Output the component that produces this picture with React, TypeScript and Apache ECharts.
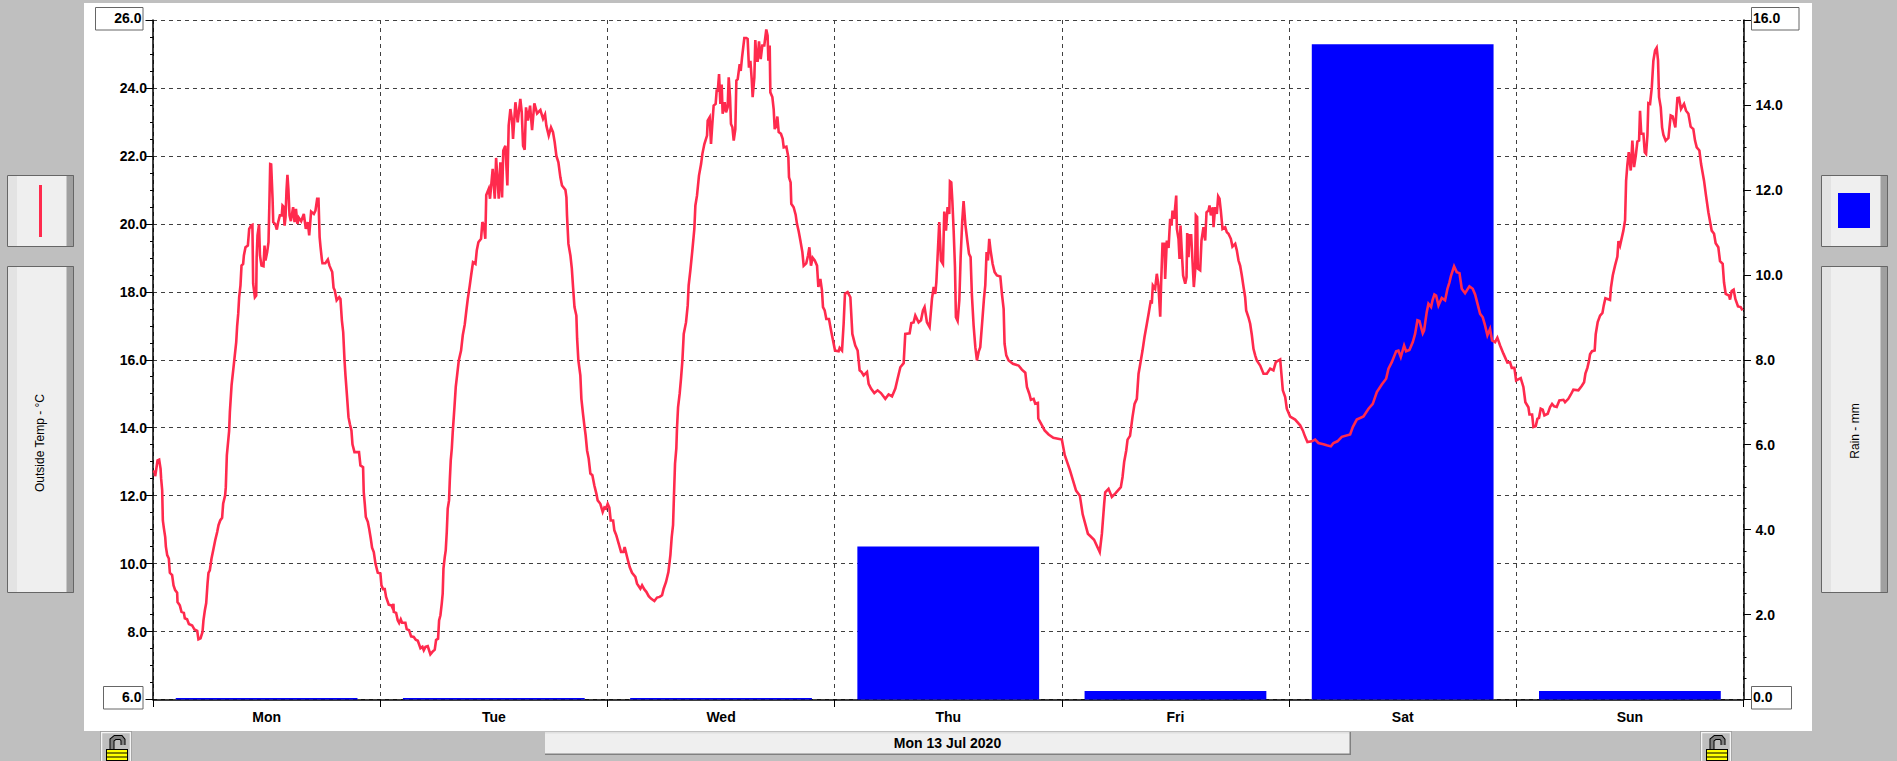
import React, { useEffect, useRef } from "react";
import * as echarts from "echarts";

const days = ["Mon", "Tue", "Wed", "Thu", "Fri", "Sat", "Sun"];
const rainMm = [0, 0, 0, 3.6, 0.2, 15.43, 0.2];
const tempTitle = "Outside Temp - °C";
const rainTitle = "Rain - mm";
const dateLabel = "Mon 13 Jul 2020";

// [hour since Monday 00:00, outside temperature °C]
const monTemp = [
  [0, 12.72], [0.2, 12.7], [0.23, 12.57], [0.33, 12.75], [0.48, 13.04], [0.65, 13.06], [0.8, 12.79], [0.86, 12.5], [0.97, 12.16], [1.04, 11.27],
  [1.14, 11.06], [1.29, 10.78], [1.36, 10.5], [1.5, 10.25], [1.67, 10.15], [1.78, 9.73], [2.02, 9.66], [2.17, 9.36], [2.34, 9.22], [2.55, 9.14],
  [2.59, 8.87], [2.83, 8.77], [3.01, 8.58], [3.26, 8.55], [3.36, 8.39], [3.6, 8.36], [3.79, 8.22], [4.14, 8.18], [4.38, 8.06], [4.67, 8.02],
  [4.8, 7.77], [5.02, 7.8], [5.23, 7.99], [5.33, 8.33], [5.48, 8.63], [5.62, 8.84], [5.76, 9.41], [5.86, 9.73], [6, 9.8], [6.18, 10.15],
  [6.36, 10.39], [6.57, 10.69], [6.78, 10.93], [6.92, 11.13], [7.1, 11.27], [7.3, 11.35], [7.41, 11.76], [7.62, 12.01], [7.69, 12.25], [7.8, 13.19],
  [8.04, 13.9], [8.12, 14.46], [8.3, 15.25], [8.47, 15.69], [8.64, 16.13], [8.79, 16.52], [8.89, 17], [9, 17.35], [9.1, 17.84], [9.24, 18.19],
  [9.35, 18.77], [9.52, 18.82], [9.6, 19.07], [9.77, 19.31], [10.02, 19.36], [10.16, 19.85], [10.37, 19.95], [10.5, 19.97], [10.58, 18.24], [10.76, 17.84],
  [10.9, 17.89], [10.95, 19.02], [11.04, 19.66], [11.2, 19.98], [11.3, 19.07], [11.46, 18.77], [11.67, 18.75], [11.78, 19.36], [11.88, 18.92], [12.06, 19.17],
  [12.2, 19.46], [12.3, 20.69], [12.38, 21.76], [12.48, 21.75], [12.63, 20.74], [12.7, 20.05], [12.9, 20], [13.08, 19.83], [13.22, 20.05], [13.4, 20.25],
  [13.6, 20.25], [13.68, 20.54], [13.78, 20.51], [13.9, 19.95], [14, 20.2], [14.1, 20.98], [14.2, 21.44], [14.3, 21.03], [14.42, 20.25], [14.56, 20.08],
  [14.8, 20.49], [14.95, 20.05], [15.1, 20.44], [15.26, 20], [15.4, 20.18], [15.65, 20.08], [15.93, 20.29], [16.14, 19.85], [16.35, 20.05], [16.5, 19.66],
  [16.7, 20.36], [16.99, 20.29], [17.16, 20.39], [17.34, 20.74], [17.48, 20.74], [17.6, 19.61], [17.7, 19.31], [17.83, 18.97], [17.9, 18.84], [18.2, 18.84],
  [18.47, 18.95], [18.64, 18.77], [18.93, 18.58], [19.07, 18.12], [19.2, 18.04], [19.4, 17.75], [19.67, 17.84], [19.8, 17.79], [19.95, 17.16], [20.09, 16.81],
  [20.23, 15.98], [20.33, 15.54], [20.5, 14.9], [20.65, 14.31], [20.8, 14.1], [20.96, 13.92], [21.07, 13.51], [21.28, 13.28], [21.76, 13.28], [21.91, 12.89],
  [22.19, 12.84], [22.26, 12.1], [22.37, 11.76], [22.48, 11.37], [22.69, 11.23], [22.83, 11.03], [23, 10.74], [23.14, 10.47], [23.32, 10.34], [23.5, 10],
  [23.74, 9.73], [24.02, 9.71],
];

const tueTemp = [
  [24.13, 9.36], [24.3, 9.25], [24.48, 9.25], [24.62, 9.02], [24.9, 8.79], [25.19, 8.77], [25.33, 8.68], [25.4, 8.82], [25.43, 8.58], [25.68, 8.55],
  [25.85, 8.33], [26, 8.25], [26.17, 8.36], [26.31, 8.26], [26.66, 8.26], [26.8, 8.07], [27.05, 8.04], [27.26, 7.86], [27.54, 7.84], [27.75, 7.76],
  [27.97, 7.73], [28.25, 7.51], [28.46, 7.55], [28.6, 7.45], [28.78, 7.55], [29.02, 7.57], [29.16, 7.45], [29.3, 7.33], [29.51, 7.4], [29.76, 7.47],
  [29.9, 7.75], [30.11, 7.79], [30.22, 8.33], [30.36, 8.48], [30.5, 8.82], [30.6, 9.12], [30.68, 9.85], [30.82, 10.2], [30.92, 10.39], [31.03, 10.93],
  [31.13, 11.62], [31.27, 11.86], [31.35, 12.45], [31.45, 13.04], [31.56, 13.38], [31.66, 13.87], [31.84, 14.6], [31.98, 15.2], [32.12, 15.54], [32.3, 15.98],
  [32.54, 16.27], [32.72, 16.72], [32.93, 17.04], [33.1, 17.45], [33.25, 17.79], [33.46, 18.19], [33.6, 18.48], [33.8, 18.87], [34.06, 18.82], [34.2, 19.22],
  [34.37, 19.46], [34.65, 19.56], [34.79, 20.05], [34.95, 19.95], [35.1, 19.56], [35.2, 20.85], [35.46, 21.03], [35.6, 20.74], [35.88, 21.62], [36.1, 20.74],
  [36.24, 21.94], [36.52, 20.74], [36.69, 21.81], [36.87, 20.78], [37, 22.16], [37.22, 22.3], [37.43, 21.13], [37.57, 22.89], [37.75, 23.38], [37.93, 23.04],
  [38.03, 22.5], [38.28, 23.58], [38.52, 22.99], [38.8, 23.68], [38.95, 23.28], [39.09, 22.3], [39.26, 22.18], [39.4, 23.43], [39.6, 23.04], [39.83, 23.48],
  [40.04, 22.76], [40.28, 23.55], [40.57, 23.25], [40.92, 23.35], [41.2, 23.09], [41.41, 23.22], [41.55, 22.89], [41.8, 22.6], [42.04, 22.84], [42.25, 22.7],
  [42.43, 22.4], [42.61, 22], [42.82, 21.81], [43.03, 21.37], [43.2, 21.13], [43.56, 21], [43.67, 20.78], [43.73, 20.25], [43.88, 19.41], [44.09, 19.07],
  [44.24, 18.68], [44.37, 18.14], [44.52, 17.55], [44.72, 17.3], [44.8, 16.62], [44.93, 15.98], [45.14, 15.54], [45.25, 14.85], [45.42, 14.41], [45.55, 14.1],
  [45.7, 13.77], [45.85, 13.33], [46.02, 13.09], [46.2, 12.65], [46.41, 12.6], [46.62, 12.3], [46.83, 12.06], [46.97, 11.86], [47.25, 11.76], [47.5, 11.52],
  [47.68, 11.65], [47.85, 11.62], [48.03, 11.76],
];

const wedTemp = [
  [48.2, 11.65], [48.35, 11.27], [48.6, 11.27], [48.73, 10.98], [48.94, 10.83], [49.19, 10.59], [49.44, 10.34], [49.68, 10.34], [49.82, 10.49], [50.07, 10.2],
  [50.35, 9.9], [50.6, 9.73], [50.95, 9.61], [51.13, 9.41], [51.48, 9.26], [51.66, 9.36], [51.9, 9.24], [52.11, 9.17], [52.36, 9.04], [52.6, 8.97],
  [52.96, 8.9], [53.24, 9], [53.52, 9.02], [53.77, 9.07], [53.94, 9.26], [54.19, 9.46], [54.44, 9.75], [54.65, 10.25], [54.79, 10.78], [54.93, 11.13],
  [55.03, 12.01], [55.14, 12.94], [55.28, 13.4], [55.35, 14], [55.46, 14.6], [55.63, 15], [55.77, 15.44], [55.92, 15.98], [56.06, 16.76], [56.3, 17.1],
  [56.48, 17.6], [56.58, 18.19], [56.76, 18.63], [56.97, 19.22], [57.18, 19.85], [57.29, 20.54], [57.46, 20.83], [57.67, 21.42], [57.89, 21.76], [58.03, 22.06],
  [58.24, 22.35], [58.52, 22.6], [58.59, 23.04], [58.8, 23.14], [58.94, 22.35], [59.08, 22.94], [59.22, 23.48], [59.43, 23.53], [59.54, 23.92], [59.66, 23.92],
  [59.79, 24.41], [59.93, 23.53], [60.07, 24.1], [60.17, 23.24], [60.39, 23.58], [60.53, 23.28], [60.7, 23.43], [60.81, 24.31], [60.95, 23.73], [61.05, 22.94],
  [61.2, 22.84], [61.34, 22.45], [61.51, 22.79], [61.62, 24.22], [61.76, 24.26], [61.97, 24.7], [62.08, 24.5], [62.22, 24.9], [62.46, 25.47], [62.67, 25.47],
  [62.81, 25.44], [62.95, 24.6], [63.1, 24.8], [63.24, 24.26], [63.34, 23.73], [63.52, 24.31], [63.62, 25.41], [63.76, 24.8], [63.87, 24.8], [64.01, 25.37],
  [64.19, 24.85], [64.36, 25.25], [64.57, 25.25], [64.78, 25.72], [64.92, 25.54], [65, 24.8], [65.14, 25.25], [65.21, 23.87], [65.42, 23.73], [65.56, 23.38],
  [65.67, 22.79], [65.84, 22.89], [65.95, 23.16], [66.09, 22.7], [66.33, 22.65], [66.51, 22.5], [66.62, 22.25], [66.9, 22.27], [67.11, 21.96], [67.18, 21.37],
  [67.35, 21.22], [67.42, 20.59], [67.67, 20.49], [67.88, 20.27], [68.02, 20], [68.2, 19.78], [68.38, 19.51], [68.59, 19.17], [68.73, 18.77], [69, 18.84],
  [69.19, 19.07], [69.33, 19.31], [69.5, 18.77], [69.68, 19], [69.9, 18.92], [70.14, 18.77], [70.28, 18.14], [70.49, 18.38], [70.66, 18.04], [70.77, 17.55],
  [70.95, 17.45], [71.12, 17.2], [71.4, 17.2], [71.62, 16.86], [71.83, 16.57], [72.04, 16.27],
];

const thuTemp = [
  [72.42, 16.25], [72.53, 16.35], [72.78, 16.27], [72.95, 17.06], [73.09, 17.94], [73.37, 17.99], [73.66, 17.84], [73.87, 16.76], [74.18, 16.42], [74.43, 16.27],
  [74.64, 15.69], [74.85, 15.64], [75.06, 15.54], [75.42, 15.64], [75.59, 15.29], [75.84, 15.15], [76.19, 15.02], [76.54, 15.1], [76.89, 15.02], [77.35, 14.85],
  [77.7, 14.98], [78.06, 14.92], [78.41, 15.15], [78.65, 15.44], [78.94, 15.78], [79.29, 15.9], [79.46, 16.76], [79.92, 16.78], [80.1, 17.08], [80.34, 17.1],
  [80.52, 17.3], [80.87, 17.1], [81.12, 17.16], [81.33, 17.45], [81.5, 17.55], [81.75, 17.1], [82.03, 16.96], [82.28, 17.79], [82.46, 18.14], [82.63, 17.94],
  [82.74, 18.28], [82.88, 19.07], [83.05, 20.05], [83.23, 18.92], [83.44, 18.82], [83.58, 20.36], [83.76, 19.8], [83.93, 20.49], [84.11, 20.29], [84.18, 21.25],
  [84.32, 21.22], [84.43, 20.69], [84.57, 19.8], [84.71, 18.73], [84.81, 17.25], [84.99, 17.14], [85.17, 17.75], [85.31, 19.02], [85.48, 20.1], [85.62, 20.67],
  [85.8, 20], [86.01, 19.51], [86.19, 19.12], [86.36, 19.02], [86.5, 17.89], [86.68, 17], [86.86, 16.37], [87.03, 15.98], [87.21, 16.23], [87.38, 16.37],
  [87.6, 17.16], [87.77, 17.79], [87.91, 18.19], [88.05, 19.17], [88.19, 18.92], [88.33, 19.56], [88.47, 19.22], [88.69, 18.82], [88.9, 18.58], [89.14, 18.48],
  [89.5, 18.45], [89.67, 17.94], [89.85, 17.5], [89.95, 16.47], [90.13, 16.13], [90.38, 15.98], [90.83, 15.88], [91.43, 15.83], [91.78, 15.71], [92.14, 15.62],
  [92.31, 15.2], [92.56, 15], [92.73, 14.82], [93.02, 14.85], [93.19, 14.71], [93.47, 14.73], [93.51, 14.27], [93.9, 14.07], [94.18, 13.92], [94.6, 13.8],
  [95.1, 13.7], [96, 13.65],
];

const friTemp = [
  [96.3, 13.2], [96.85, 12.75], [97.5, 12.15], [97.9, 12], [98.2, 11.45], [98.75, 10.88], [99.4, 10.7], [100, 10.34], [100.23, 10.88], [100.47, 11.76],
  [100.58, 12.1], [100.93, 12.2], [101.28, 11.96], [101.63, 12.06], [102.23, 12.25], [102.41, 12.55], [102.58, 12.99], [102.8, 13.33], [102.94, 13.65], [103.2, 13.76],
  [103.46, 14.31], [103.68, 14.7], [103.92, 14.85], [104.1, 15.59], [104.27, 15.86], [104.52, 16.27], [104.73, 16.67], [104.98, 17.06], [105.19, 17.4], [105.4, 17.75],
  [105.5, 17.65], [105.61, 18.19], [105.85, 18.09], [106.03, 18.53], [106.2, 18.19], [106.31, 17.65], [106.39, 17.27], [106.49, 18.28], [106.63, 19.41], [106.84, 19.41],
  [106.91, 18.38], [107.09, 19.51], [107.27, 19.29], [107.44, 20.15], [107.58, 19.95], [107.69, 20.39], [107.86, 20.15], [108.08, 20.83], [108.15, 19.85], [108.32, 19.56],
  [108.43, 18.97], [108.53, 19.95], [108.67, 19.17], [108.81, 18.48], [109.03, 18.24], [109.17, 18.43], [109.24, 19.73], [109.38, 19.02], [109.48, 19.66], [109.66, 19.66],
  [109.76, 19.12], [109.94, 18.14], [110.08, 18.63], [110.15, 20.25], [110.29, 20.2], [110.36, 18.68], [110.61, 18.63], [110.75, 19.51], [110.96, 19.9], [111.14, 19.51],
  [111.28, 20.34], [111.49, 20.39], [111.6, 20.54], [111.74, 20.25], [111.95, 20.49], [112.02, 19.9], [112.19, 20.49], [112.37, 20.29], [112.51, 20.81], [112.65, 20.74],
  [112.79, 20.39], [112.97, 19.85], [113.25, 19.9], [113.43, 19.75], [113.6, 19.71], [113.85, 19.56], [114.02, 19.33], [114.31, 19.41], [114.48, 19.22], [114.66, 18.92],
  [114.83, 18.77], [115.01, 18.48], [115.19, 18.14], [115.36, 17.84], [115.47, 17.45], [115.71, 17.25], [115.89, 17.06], [116.07, 16.72], [116.24, 16.32], [116.42, 16.13],
  [116.59, 15.98], [116.95, 15.83], [117.3, 15.59], [117.65, 15.59], [118, 15.74], [118.35, 15.69], [118.6, 15.93], [119.06, 16.01], [119.16, 15.69], [119.34, 15.1],
  [119.59, 14.9], [119.76, 14.56], [120.11, 14.33],
];

const satTemp = [
  [120.64, 14.24], [121.17, 14.07], [121.45, 13.92], [121.7, 13.73], [121.94, 13.58], [122.4, 13.6], [122.75, 13.65], [123.1, 13.55], [123.63, 13.51], [123.98, 13.48],
  [124.41, 13.45], [124.69, 13.55], [125.11, 13.6], [125.57, 13.73], [126.45, 13.8], [126.73, 14.02], [127.15, 14.24], [127.86, 14.33], [128.39, 14.56], [128.84, 14.7],
  [129.27, 15.05], [129.79, 15.27], [130.25, 15.44], [130.5, 15.74], [130.85, 15.93], [131.31, 16.25], [131.55, 16.27], [131.8, 16.08], [132.15, 16.42], [132.36, 16.25],
  [132.71, 16.29], [133.07, 16.52], [133.31, 16.76], [133.56, 17.16], [133.77, 17.14], [134.12, 16.78], [134.26, 16.86], [134.54, 17.4], [134.72, 17.65], [135, 17.55],
  [135.15, 17.75], [135.35, 17.92], [135.53, 17.89], [135.78, 17.6], [136.13, 17.82], [136.48, 17.75], [136.73, 18.09], [136.94, 18.28], [137.11, 18.48], [137.43, 18.75],
  [137.71, 18.58], [138, 18.55], [138.24, 18.09], [138.59, 17.96], [139.05, 18.16], [139.4, 18.09], [139.65, 17.92], [139.9, 17.65], [140.18, 17.35], [140.46, 17.25],
  [140.7, 17.01], [140.95, 16.72], [141.23, 16.91], [141.44, 16.57], [141.76, 16.52], [142, 16.65], [142.29, 16.42], [142.64, 16.18], [143.06, 15.92], [143.34, 15.93],
  [143.52, 15.76], [143.8, 15.76], [143.98, 15.39],
];

const sunTemp = [
  [144.47, 15.46], [144.75, 15.2], [144.96, 14.75], [145.28, 14.6], [145.39, 14.39], [145.67, 14.39], [145.81, 14.02], [146.05, 14.04], [146.23, 14.26], [146.4, 14.29],
  [146.58, 14.56], [146.79, 14.53], [146.97, 14.36], [147.32, 14.41], [147.57, 14.61], [147.78, 14.7], [148, 14.63], [148.27, 14.61], [148.55, 14.8], [148.98, 14.82],
  [149.15, 14.75], [149.5, 14.85], [149.75, 14.97], [150.03, 15.12], [150.56, 15.1], [150.91, 15.23], [151.16, 15.34], [151.3, 15.59], [151.51, 15.76], [151.69, 15.98],
  [151.79, 16.16], [152, 16.25], [152.28, 16.27], [152.39, 16.75], [152.6, 17.11], [152.85, 17.3], [153.1, 17.38], [153.24, 17.6], [153.41, 17.81], [153.9, 17.76],
  [154, 18.12], [154.19, 18.48], [154.43, 18.77], [154.68, 19.04], [154.79, 19.49], [154.96, 19.36], [155.31, 19.8], [155.49, 20.1], [155.6, 21.27], [155.74, 21.76],
  [155.88, 22.11], [156.09, 21.57], [156.26, 22.45], [156.44, 21.67], [156.62, 22], [156.79, 22.42], [156.97, 22.45], [157.07, 23.33], [157.2, 22.65], [157.43, 22.65],
  [157.57, 22.11], [157.71, 22.06], [157.85, 22.6], [157.95, 23.55], [158.13, 23.53], [158.31, 24], [158.48, 24.8], [158.66, 25.1], [158.83, 25.18], [158.97, 24.82],
  [159.08, 23.73], [159.26, 23.43], [159.4, 22.84], [159.54, 22.62], [159.78, 22.45], [160.07, 22.53], [160.31, 23.19], [160.52, 23.16], [160.8, 22.84], [161.02, 23.7],
  [161.19, 23.71], [161.4, 23.38], [161.72, 23.53], [161.93, 23.33], [162.18, 23.24], [162.42, 22.86], [162.7, 22.79], [162.88, 22.45], [163.06, 22.25], [163.34, 22.16],
  [163.52, 21.76], [163.83, 21.27], [164.04, 20.83], [164.29, 20.34], [164.64, 19.8], [164.89, 19.71], [165.06, 19.43], [165.34, 19.31], [165.52, 18.9], [165.8, 18.82],
  [165.94, 18.28], [166.12, 17.94], [166.47, 17.89], [166.58, 17.77], [166.75, 18.02], [166.96, 18.06], [167.14, 17.79], [167.42, 17.57], [167.7, 17.55], [167.9, 17.45],
];

const FONT = "'Liberation Sans', Arial, sans-serif";
const BG = "#bfbfbf";
const RED = "#ff2a4d";
const BLUE = "#0000ff";
const GRID = "#404040";

function sideButton(x: number, y: number, w: number, h: number) {
  return [
    { type: "rect", z: 1, shape: { x, y, width: w, height: h }, style: { fill: "#efefef", stroke: "none" } },
    { type: "rect", z: 1, shape: { x, y, width: 10, height: h }, style: { fill: "#e3e3e3", stroke: "none" } },
    { type: "rect", z: 1, shape: { x: x + w - 7.5, y, width: 7.5, height: h }, style: { fill: "#a0a0a0", stroke: "none" } },
    { type: "rect", z: 1, shape: { x: x + 0.5, y: y + 0.5, width: w - 1, height: h - 1 }, style: { fill: "none", stroke: "#666666", lineWidth: 1 } },
  ];
}

function lock(x: number) {
  const els: any[] = [
    { type: "rect", z: 1, shape: { x: x, y: 731, width: 32, height: 30 }, style: { fill: BG, stroke: "none" } },
    { type: "polyline", z: 1, shape: { points: [[x + 0.5, 761], [x + 0.5, 731.5], [x + 31.5, 731.5], [x + 31.5, 761]] }, style: { fill: "none", stroke: "#8c8c8c", lineWidth: 1 } },
    { type: "polyline", z: 1, shape: { points: [[x + 1.5, 761], [x + 1.5, 732.5], [x + 30.5, 732.5], [x + 30.5, 761]] }, style: { fill: "none", stroke: "#f4f4f4", lineWidth: 1.5 } },
    { type: "polyline", z: 2, shape: { points: [[x + 12, 749], [x + 12, 740], [x + 15, 737.5], [x + 21, 737.5], [x + 23, 740], [x + 23, 745]] }, style: { fill: "none", stroke: "#000000", lineWidth: 5 } },
    { type: "polyline", z: 3, shape: { points: [[x + 12, 749], [x + 12, 740], [x + 15, 737.5], [x + 21, 737.5], [x + 23, 740], [x + 23, 745]] }, style: { fill: "none", stroke: "#808080", lineWidth: 3 } },
    { type: "rect", z: 4, shape: { x: x + 6, y: 749, width: 22, height: 12 }, style: { fill: "#ffff00", stroke: "none" } },
  ];
  [749, 752.5, 756.5, 760].forEach((y) =>
    els.push({ type: "rect", z: 5, shape: { x: x + 6, y, width: 22, height: 1 }, style: { fill: "#000000", stroke: "none" } })
  );
  [6, 27].forEach((dx) =>
    els.push({ type: "rect", z: 5, shape: { x: x + dx, y: 749, width: 1, height: 12 }, style: { fill: "#000000", stroke: "none" } })
  );
  return els;
}

function box(x: number, y: number, w: number, h: number, label: string, align: "left" | "right") {
  return [
    { type: "rect", z: 1, shape: { x: x + 0.5, y: y + 0.5, width: w - 1, height: h - 1 }, style: { fill: "#ffffff", stroke: "#666666", lineWidth: 1 } },
    {
      type: "text", z: 6,
      x: align === "right" ? x + w - 2 : x + 2,
      y: y + h / 2 - 1,
      style: { text: label, font: `bold 14px ${FONT}`, fill: "#000000", align, verticalAlign: "middle" },
    },
  ];
}

export default function App() {
  const ref = useRef<HTMLDivElement>(null);
  useEffect(() => {
    document.body.style.margin = "0";
    document.body.style.background = BG;
    const chart = echarts.init(ref.current!, undefined, { renderer: "svg" });
    const tempData = [...monTemp, ...tueTemp, ...wedTemp, ...thuTemp, ...friTemp, ...satTemp, ...sunTemp];
    const axisText = { color: "#000000", fontFamily: FONT, fontWeight: "bold" as const, fontSize: 14 };
    const axisLine = { show: true, onZero: false, lineStyle: { color: "#000000", width: 1.5 } };
    chart.setOption({
      animation: false,
      backgroundColor: BG,
      grid: { left: 153, top: 20, width: 1590.5, height: 679.5, containLabel: false },
      xAxis: [
        {
          type: "category", data: days, position: "bottom", axisLine,
          axisTick: { show: true, alignWithLabel: false, length: 7.5, interval: 0, lineStyle: { color: "#000000", width: 1 } },
          axisLabel: { ...axisText, margin: 10, interval: 0 },
          splitLine: { show: true, interval: 0, lineStyle: { color: GRID, type: [4, 4], width: 1 } },
        },
        { type: "value", min: 0, max: 168, show: false, splitLine: { show: false } },
      ],
      yAxis: [
        {
          type: "value", min: 6, max: 26, interval: 2, position: "left", axisLine,
          axisTick: { show: true, length: 7.5, lineStyle: { color: "#000000", width: 1 } },
          minorTick: { show: true, splitNumber: 4, length: 3, lineStyle: { color: "#000000", width: 1 } },
          axisLabel: { ...axisText, margin: 6, padding: [0, 0, 2, 0], showMinLabel: false, showMaxLabel: false, formatter: (v: number) => v.toFixed(1) },
          splitLine: { show: true, lineStyle: { color: GRID, type: [4, 4], width: 1 } },
        },
        {
          type: "value", min: 0, max: 16, interval: 2, position: "right", axisLine,
          axisTick: { show: true, length: 7.5, lineStyle: { color: "#000000", width: 1 } },
          minorTick: { show: true, splitNumber: 4, length: 3, lineStyle: { color: "#000000", width: 1 } },
          axisLabel: { ...axisText, margin: 12, padding: [0, 0, 2, 0], showMinLabel: false, showMaxLabel: false, formatter: (v: number) => v.toFixed(1) },
          splitLine: { show: false },
        },
      ],
      series: [
        {
          type: "bar", name: "Rain", xAxisIndex: 0, yAxisIndex: 1, data: rainMm,
          barWidth: "80%", barMinHeight: 1.5, itemStyle: { color: BLUE }, z: 2,
        },
        {
          type: "line", name: "Outside Temp", xAxisIndex: 1, yAxisIndex: 0, data: tempData,
          showSymbol: false, smooth: false, lineStyle: { color: RED, width: 2.6, join: "miter" }, z: 3,
        },
      ],
      graphic: {
        elements: [
          { type: "rect", z: -10, silent: true, shape: { x: 84, y: 3, width: 1728, height: 728 }, style: { fill: "#ffffff" } },
          ...box(95, 7, 48.5, 23.5, "26.0", "right"),
          ...box(103, 686, 40.5, 23.5, "6.0", "right"),
          ...box(1751, 7, 48.5, 23.5, "16.0", "left"),
          ...box(1751, 686, 41, 23.5, "0.0", "left"),
          ...sideButton(7, 175, 67, 72),
          ...sideButton(7, 266, 67, 327),
          ...sideButton(1821, 175, 67, 72),
          ...sideButton(1821, 266, 67, 327),
          { type: "rect", z: 6, shape: { x: 39, y: 185, width: 3, height: 52 }, style: { fill: RED } },
          { type: "rect", z: 6, shape: { x: 1838, y: 193, width: 32, height: 35 }, style: { fill: BLUE } },
          {
            type: "text", z: 6, x: 40, y: 443, rotation: Math.PI / 2, originX: 0, originY: 0,
            style: { text: tempTitle, font: `12px ${FONT}`, fill: "#000000", align: "center", verticalAlign: "middle" },
          },
          {
            type: "text", z: 6, x: 1855, y: 431, rotation: Math.PI / 2, originX: 0, originY: 0,
            style: { text: rainTitle, font: `12px ${FONT}`, fill: "#000000", align: "center", verticalAlign: "middle" },
          },
          { type: "rect", z: 1, shape: { x: 545, y: 732, width: 806, height: 23 }, style: { fill: "#efefef" } },
          { type: "rect", z: 2, shape: { x: 545, y: 732, width: 806, height: 1.5 }, style: { fill: "#e0e0e0" } },
          { type: "rect", z: 2, shape: { x: 545, y: 753.5, width: 806, height: 1.5 }, style: { fill: "#808080" } },
          { type: "rect", z: 2, shape: { x: 1349.5, y: 732, width: 1.5, height: 23 }, style: { fill: "#808080" } },
          {
            type: "text", z: 6, x: 947.5, y: 743,
            style: { text: dateLabel, font: `bold 14px ${FONT}`, fill: "#000000", align: "center", verticalAlign: "middle" },
          },
          ...lock(100),
          ...lock(1700),
        ],
      },
    });
    return () => chart.dispose();
  }, []);
  return <div ref={ref} style={{ position: "absolute", left: 0, top: 0, width: 1897, height: 761 }} />;
}
